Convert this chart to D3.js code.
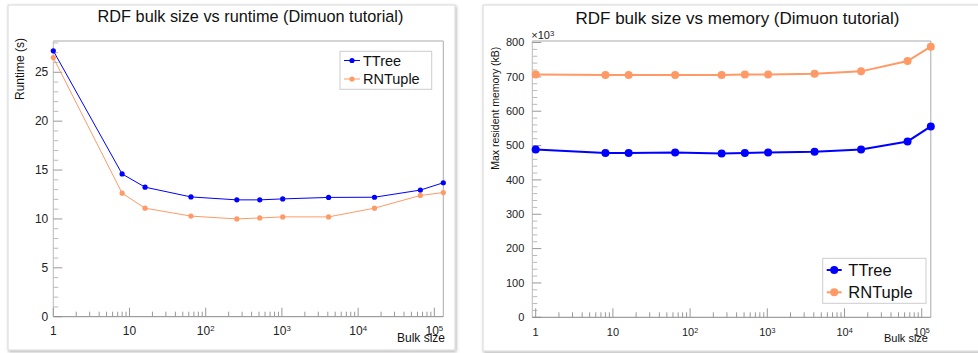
<!DOCTYPE html>
<html>
<head>
<meta charset="utf-8">
<script src="https://cdn.jsdelivr.net/npm/d3@7"></script>
<style>
  body { margin: 0; background: #fff; }
  svg { display: block; font-family: "Liberation Sans", Arial, sans-serif; }
</style>
</head>
<body>
<div class="container"></div>
<script>
// bulk sizes shared by both graphs
const bulkSizes = [1, 8, 16, 64, 256, 512, 1024, 4096, 16384, 65536, 131072];

// runtime in seconds
const runtimeTTree = [27.2, 14.6, 13.25, 12.25, 11.95, 11.95, 12.05, 12.2, 12.22, 12.95, 13.7];
const runtimeRNTuple = [26.5, 12.63, 11.1, 10.29, 10.0, 10.1, 10.21, 10.21, 11.1, 12.4, 12.7];

// max resident memory in kB
const memoryTTree = [488600, 478000, 478000, 480000, 477000, 478000, 480000, 482000, 488600, 512000, 555700];
const memoryRNTuple = [707000, 705500, 705500, 705500, 705500, 707000, 707000, 709000, 716000, 746000, 788000];

const seriesNames = ["TTree", "RNTuple"];
const seriesColors = ["#0000ff", "#ff9a66"];

const runtimeTicks = [0, 5, 10, 15, 20, 25];
const memoryTicks = [0, 100000, 200000, 300000, 400000, 500000, 600000, 700000, 800000];
const decadeTicks = [1, 10, 100, 1000, 10000, 100000];

const titles = ["RDF bulk size vs runtime (Dimuon tutorial)", "RDF bulk size vs memory (Dimuon tutorial)"];
const yLabels = ["Runtime (s)", "Max resident memory (kB)"];
const xLabel = "Bulk size";

const W = 978, H = 353;
const svg = d3.select("div.container").append("svg")
    .attr("width", W).attr("height", H);

// soft card shadow like the screenshot
const defs = svg.append("defs");
const f = defs.append("filter").attr("id", "shadow")
    .attr("x", "-5%").attr("y", "-5%").attr("width", "110%").attr("height", "110%");
f.append("feDropShadow").attr("dx", 1).attr("dy", 1.5)
    .attr("stdDeviation", 1.5).attr("flood-color", "#000").attr("flood-opacity", 0.3);

function drawPanel(cfg) {
    // card
    svg.append("rect")
        .attr("x", cfg.card[0]).attr("y", cfg.card[1])
        .attr("width", cfg.card[2]).attr("height", cfg.card[3])
        .attr("fill", "#fff").attr("stroke", "#d8d8d8")
        .attr("filter", "url(#shadow)");

    const g = svg.append("g");
    const x = d3.scaleLog().domain(cfg.xDomain).range([cfg.left, cfg.right]);
    const y = d3.scaleLinear().domain(cfg.yDomain).range([cfg.bottom, cfg.top]);

    // frame top and right
    g.append("path")
        .attr("d", `M${cfg.left},${cfg.top}H${cfg.right}V${cfg.bottom}`)
        .attr("fill", "none").attr("stroke", "#aaa").attr("stroke-width", 1);

    // y axis
    g.append("line")
        .attr("x1", cfg.left).attr("x2", cfg.left)
        .attr("y1", cfg.top).attr("y2", cfg.bottom)
        .attr("stroke", "#bbb");
    const yMinor = d3.range(cfg.yDomain[0], cfg.yDomain[1], cfg.yMinorStep)
        .filter(v => !cfg.yTicks.includes(v));
    g.selectAll(".yminor").data(yMinor).join("line")
        .attr("x1", cfg.left).attr("x2", cfg.left + cfg.minorLen)
        .attr("y1", d => y(d)).attr("y2", d => y(d))
        .attr("stroke", "#bbb");
    g.selectAll(".ymajor").data(cfg.yTicks).join("line")
        .attr("x1", cfg.left).attr("x2", cfg.left + cfg.majorLen)
        .attr("y1", d => y(d)).attr("y2", d => y(d))
        .attr("stroke", "#999");
    g.selectAll(".ylab").data(cfg.yTicks).join("text")
        .attr("x", cfg.left - cfg.yLabGap).attr("y", d => y(d))
        .attr("dy", "0.35em").attr("text-anchor", "end")
        .attr("font-size", cfg.tickFont).attr("fill", "#222")
        .text(cfg.yFormat);

    // x axis
    g.append("line")
        .attr("x1", cfg.left).attr("x2", cfg.right)
        .attr("y1", cfg.bottom).attr("y2", cfg.bottom)
        .attr("stroke", "#888");
    const xMinor = [];
    for (let dec = 1; dec <= 100000; dec *= 10) {
        for (let k = 2; k <= 9; k++) {
            const v = dec * k;
            if (v >= cfg.xDomain[0] && v <= cfg.xDomain[1]) xMinor.push(v);
        }
    }
    g.selectAll(".xminor").data(xMinor).join("line")
        .attr("x1", d => x(d)).attr("x2", d => x(d))
        .attr("y1", cfg.bottom).attr("y2", cfg.bottom - cfg.minorLen)
        .attr("stroke", "#999");
    g.selectAll(".xmajor").data(decadeTicks).join("line")
        .attr("x1", d => x(d)).attr("x2", d => x(d))
        .attr("y1", cfg.bottom).attr("y2", cfg.bottom - cfg.majorLen)
        .attr("stroke", "#999");
    const xl = g.selectAll(".xlab").data(decadeTicks).join("text")
        .attr("x", d => x(d)).attr("y", cfg.bottom + cfg.xLabDy)
        .attr("text-anchor", "middle")
        .attr("font-size", cfg.tickFont).attr("fill", "#222");
    xl.each(function(d) {
        const t = d3.select(this);
        const p = Math.round(Math.log10(d));
        if (p === 0) t.text("1");
        else if (p === 1) t.text("10");
        else {
            t.append("tspan").text("10");
            t.append("tspan").attr("dy", "-0.45em")
                .attr("font-size", cfg.tickFont * 0.65).text(p);
        }
    });

    // titles and axis labels
    svg.append("text")
        .attr("x", cfg.titleX).attr("y", cfg.titleY)
        .attr("text-anchor", "middle").attr("font-size", cfg.titleFont)
        .attr("fill", "#111").text(cfg.title);
    svg.append("text")
        .attr("transform", `translate(${cfg.yLabelX},${cfg.yLabelY}) rotate(-90)`)
        .attr("text-anchor", "end").attr("font-size", cfg.yLabelFont)
        .attr("fill", "#111").text(cfg.yLabel);
    svg.append("text")
        .attr("x", cfg.xLabelX).attr("y", cfg.xLabelY)
        .attr("text-anchor", "end").attr("font-size", cfg.xLabelFont)
        .attr("fill", "#111").text(xLabel);
    if (cfg.exponent) {
        const e = svg.append("text")
            .attr("x", cfg.left - 1).attr("y", cfg.top - 2)
            .attr("font-size", cfg.tickFont).attr("fill", "#222");
        e.append("tspan").text("\u00d710");
        e.append("tspan").attr("dy", "-0.45em")
            .attr("font-size", cfg.tickFont * 0.7).text(cfg.exponent);
    }

    // series
    const line = d3.line().x(d => x(d[0])).y(d => y(d[1]));
    cfg.series.forEach((vals, i) => {
        const pts = bulkSizes.map((b, j) => [b, vals[j]]);
        g.append("path").datum(pts)
            .attr("d", line).attr("fill", "none")
            .attr("stroke", seriesColors[i]).attr("stroke-width", cfg.lineW);
        g.selectAll(null).data(pts).join("circle")
            .attr("cx", d => x(d[0])).attr("cy", d => y(d[1]))
            .attr("r", cfg.dotR).attr("fill", seriesColors[i]);
    });

    // legend
    const L = cfg.legend;
    const lg = svg.append("g");
    lg.append("rect")
        .attr("x", L.x).attr("y", L.y).attr("width", L.w).attr("height", L.h)
        .attr("fill", "#fff").attr("stroke", "#ccc");
    seriesNames.forEach((name, i) => {
        const cy = L.rows[i];
        lg.append("line")
            .attr("x1", L.x + 4).attr("x2", L.x + 4 + L.lineLen)
            .attr("y1", cy).attr("y2", cy)
            .attr("stroke", seriesColors[i]).attr("stroke-width", cfg.lineW);
        lg.append("circle")
            .attr("cx", L.x + 4 + L.lineLen / 2).attr("cy", cy)
            .attr("r", cfg.dotR).attr("fill", seriesColors[i]);
        lg.append("text")
            .attr("x", L.x + L.textDx).attr("y", cy).attr("dy", "0.35em")
            .attr("font-size", L.font).attr("fill", "#111").text(name);
    });
}

// runtime panel
drawPanel({
    card: [8, 5, 447, 345],
    left: 53.3, right: 443.3, top: 41, bottom: 316.7,
    xDomain: [1, 131072], yDomain: [0, 28.2],
    yTicks: runtimeTicks, yMinorStep: 1, yFormat: d => d,
    majorLen: 9, minorLen: 5, yLabGap: 5, xLabDy: 18,
    tickFont: 12, lineW: 1, dotR: 2.6,
    series: [runtimeTTree, runtimeRNTuple],
    title: titles[0], titleX: 250.5, titleY: 22, titleFont: 16.3,
    yLabel: yLabels[0], yLabelX: 24, yLabelY: 38, yLabelFont: 12,
    xLabelX: 445, xLabelY: 342, xLabelFont: 12,
    legend: { x: 340, y: 51.3, w: 91.7, h: 38, rows: [60.5, 79], lineLen: 16, textDx: 23, font: 14.5 }
});

// memory panel
drawPanel({
    card: [483, 5, 500, 346],
    left: 532.3, right: 930.8, top: 41, bottom: 317.3,
    xDomain: [0.904, 131072], yDomain: [0, 804400],
    yTicks: memoryTicks, yMinorStep: 20000, yFormat: d => d / 1000,
    majorLen: 9, minorLen: 5, yLabGap: 8, xLabDy: 19,
    tickFont: 11, lineW: 2, dotR: 4,
    series: [memoryTTree, memoryRNTuple], exponent: "3",
    title: titles[1], titleX: 737.5, titleY: 24, titleFont: 17,
    yLabel: yLabels[1], yLabelX: 499, yLabelY: 46.7, yLabelFont: 10.5,
    xLabelX: 928, xLabelY: 342, xLabelFont: 11,
    legend: { x: 822.7, y: 258.3, w: 103.3, h: 45, rows: [270, 292.3], lineLen: 15, textDx: 25.6, font: 16.5 }
});
</script>
</body>
</html>
